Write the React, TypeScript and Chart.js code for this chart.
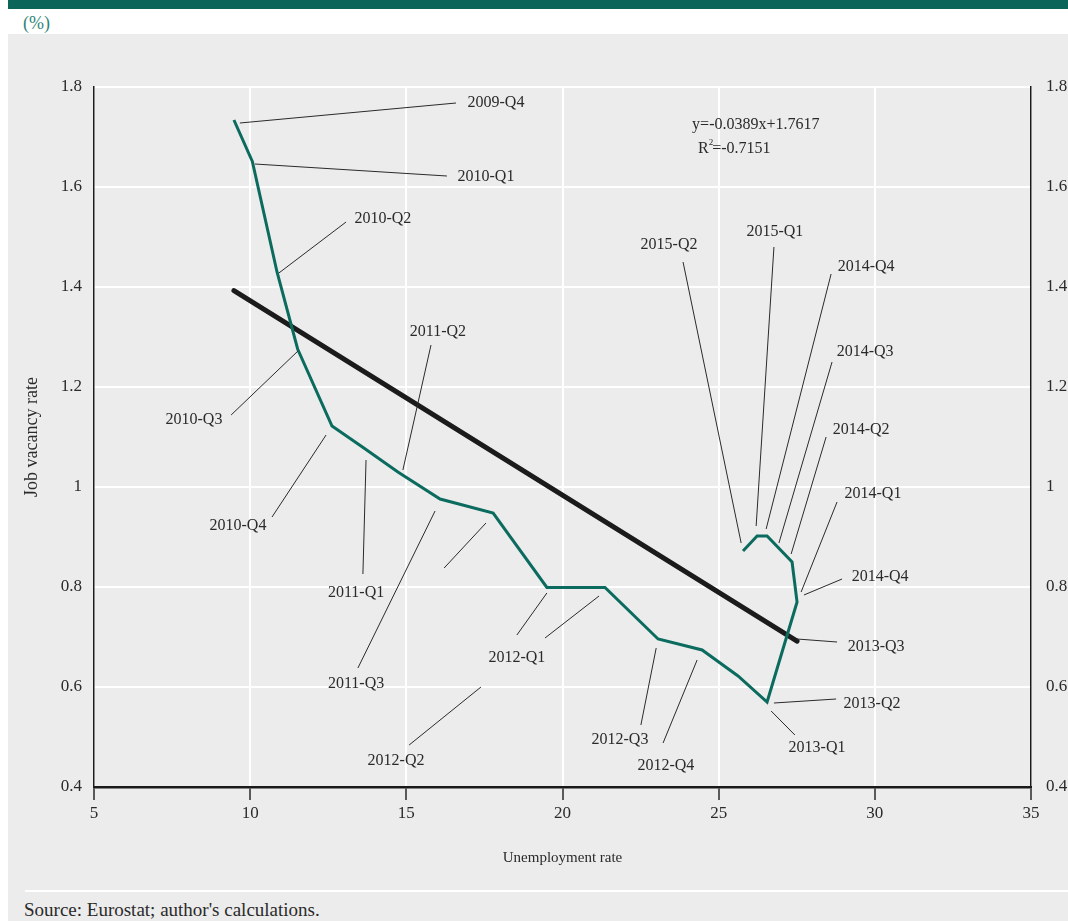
import { useEffect, useRef } from 'react';
import { Chart, registerables } from 'chart.js';

Chart.register(...registerables);

const FONT = "'Liberation Serif', 'Times New Roman', serif";

// Quarterly path: unemployment rate (x) against job vacancy rate (y)
const UNEMPLOYMENT = [
  9.48, 10.07, 10.86, 11.52, 12.62, 13.64, 14.73, 16.08, 17.78, 19.5,
  21.36, 23.06, 24.47, 25.62, 26.55, 27.51, 27.35, 26.55, 26.23, 25.78,
];
const VACANCY = [
  1.734, 1.651, 1.43, 1.276, 1.122, 1.078, 1.03, 0.976, 0.948, 0.799,
  0.799, 0.696, 0.674, 0.622, 0.57, 0.77, 0.85, 0.902, 0.902, 0.872,
];

// Linear fit stated on the chart
const FIT_SLOPE = -0.0389;
const FIT_INTERCEPT = 1.7617;
const FIT_R2 = -0.7151;

const X_TICKS = [5, 10, 15, 20, 25, 30, 35];
const Y_TICKS = [0.4, 0.6, 0.8, 1, 1.2, 1.4, 1.6, 1.8];

// Quarter labels, placed in axis units
const LABEL_TEXT = [
  '2009-Q4', '2010-Q1', '2010-Q2', '2010-Q3', '2010-Q4', '2011-Q1', '2011-Q2',
  '2011-Q3', '2012-Q1', '2012-Q2', '2012-Q3', '2012-Q4', '2013-Q1', '2013-Q2',
  '2013-Q3', '2014-Q4', '2014-Q1', '2014-Q2', '2014-Q3', '2014-Q4', '2015-Q1',
  '2015-Q2',
];
const LABEL_X = [
  17.87, 17.55, 14.25, 8.2, 9.61, 13.39, 16.01,
  13.39, 18.54, 14.67, 21.84, 23.31, 28.15, 29.91,
  30.04, 30.17, 29.94, 29.56, 29.69, 29.72, 26.8,
  23.41,
];
const LABEL_Y = [
  1.768, 1.62, 1.536, 1.134, 0.922, 0.788, 1.31,
  0.606, 0.658, 0.452, 0.494, 0.442, 0.478, 0.566,
  0.68, 0.82, 0.986, 1.114, 1.27, 1.44, 1.51,
  1.484,
];

// Leader lines joining labels to the path, in axis units
const LEADER_X1 = [
  9.67, 10.15, 10.92, 11.53, 12.43, 13.71, 14.89, 15.92, 17.55, 19.5,
  21.17, 17.39, 23.0, 24.31, 26.68, 26.77, 27.51, 27.73, 27.64, 27.32,
  26.93, 26.52, 26.2, 25.72,
];
const LEADER_Y1 = [
  1.728, 1.646, 1.428, 1.272, 1.104, 1.054, 1.034, 0.952, 0.928, 0.788,
  0.782, 0.6, 0.678, 0.654, 0.552, 0.568, 0.696, 0.784, 0.79, 0.866,
  0.888, 0.916, 0.922, 0.888,
];
const LEADER_X2 = [
  16.59, 16.3, 13.07, 9.39, 10.7, 13.61, 15.79, 13.45, 16.21, 18.54,
  19.44, 15.09, 22.51, 23.22, 27.44, 28.76, 28.79, 28.95, 28.79, 28.44,
  28.63, 28.6, 26.77, 23.86,
];
const LEADER_Y2 = [
  1.768, 1.622, 1.53, 1.144, 0.94, 0.826, 1.284, 0.638, 0.838, 0.704,
  0.698, 0.484, 0.524, 0.488, 0.504, 0.576, 0.69, 0.816, 0.97, 1.1,
  1.25, 1.426, 1.48, 1.45,
];

// Equation box anchor (left edge, axis units)
const EQUATION_X = [24.15, 24.34];
const EQUATION_Y = [1.724, 1.676];

const fit = (x: number) => FIT_INTERCEPT + FIT_SLOPE * x;

const annotationPlugin = {
  id: 'quarterAnnotations',
  afterDatasetsDraw(chart: any) {
    const { ctx } = chart;
    const xs = chart.scales.x;
    const ys = chart.scales.y;
    ctx.save();
    ctx.strokeStyle = '#2a2a2a';
    ctx.lineWidth = 1;
    for (let i = 0; i < LEADER_X1.length; i++) {
      ctx.beginPath();
      ctx.moveTo(xs.getPixelForValue(LEADER_X1[i]), ys.getPixelForValue(LEADER_Y1[i]));
      ctx.lineTo(xs.getPixelForValue(LEADER_X2[i]), ys.getPixelForValue(LEADER_Y2[i]));
      ctx.stroke();
    }
    ctx.fillStyle = '#2a2a2a';
    ctx.font = `16px ${FONT}`;
    ctx.textAlign = 'center';
    ctx.textBaseline = 'middle';
    for (let i = 0; i < LABEL_TEXT.length; i++) {
      ctx.fillText(LABEL_TEXT[i], xs.getPixelForValue(LABEL_X[i]), ys.getPixelForValue(LABEL_Y[i]));
    }
    ctx.textAlign = 'left';
    ctx.fillText(
      `y=${FIT_SLOPE}x+${FIT_INTERCEPT}`,
      xs.getPixelForValue(EQUATION_X[0]),
      ys.getPixelForValue(EQUATION_Y[0]),
    );
    // R² with a small raised 2
    const rx = xs.getPixelForValue(EQUATION_X[1]);
    const ry = ys.getPixelForValue(EQUATION_Y[1]);
    ctx.fillText('R', rx, ry);
    const rw = ctx.measureText('R').width;
    ctx.font = `9px ${FONT}`;
    ctx.fillText('2', rx + rw, ry - 6);
    const sw = ctx.measureText('2').width;
    ctx.font = `16px ${FONT}`;
    ctx.fillText(`=${FIT_R2}`, rx + rw + sw - 1, ry);
    ctx.restore();
  },
};

const tickFont = { family: FONT, size: 17 };
const yLabel = (v: any) => String(Number(Number(v).toFixed(1)));

export default function App() {
  const canvasRef = useRef<HTMLCanvasElement | null>(null);

  useEffect(() => {
    const canvas = canvasRef.current;
    if (!canvas) return;
    const minX = Math.min(...UNEMPLOYMENT);
    const maxX = Math.max(...UNEMPLOYMENT);
    const chart = new Chart(canvas, {
      type: 'scatter',
      data: {
        datasets: [
          {
            label: 'Job vacancy rate',
            data: UNEMPLOYMENT.map((x, i) => ({ x, y: VACANCY[i] })),
            showLine: true,
            borderColor: '#0b6b5e',
            borderWidth: 3,
            pointRadius: 0,
            tension: 0,
          },
          {
            label: 'Linear fit',
            data: [
              { x: minX, y: fit(minX) },
              { x: maxX, y: fit(maxX) },
            ],
            showLine: true,
            borderColor: '#1b1b1b',
            borderWidth: 5,
            borderCapStyle: 'round',
            pointRadius: 0,
          },
        ],
      },
      options: {
        animation: false,
        responsive: false,
        maintainAspectRatio: false,
        devicePixelRatio: 1,
        events: [],
        layout: { padding: { left: 8, right: 0, top: 87, bottom: 0 } },
        plugins: { legend: { display: false }, tooltip: { enabled: false } },
        scales: {
          x: {
            type: 'linear',
            position: 'bottom',
            min: 5,
            max: 35,
            afterBuildTicks: (s: any) => {
              s.ticks = X_TICKS.map((value) => ({ value }));
            },
            afterFit: (s: any) => {
              s.height = 134;
            },
            grid: {
              color: '#ffffff',
              lineWidth: 2,
              drawTicks: true,
              tickLength: 13,
              tickColor: '#2a2a2a',
              tickWidth: 1.5,
            },
            border: { display: true, color: '#1a1a1a', width: 2.5 },
            ticks: {
              padding: 3,
              color: '#2a2a2a',
              font: tickFont,
              maxRotation: 0,
              autoSkip: false,
              callback: (v: any) => String(v),
            },
            title: {
              display: true,
              text: 'Unemployment rate',
              color: '#2a2a2a',
              font: { family: FONT, size: 15 },
              padding: { top: 0, bottom: 54 },
            },
          },
          y: {
            type: 'linear',
            position: 'left',
            min: 0.4,
            max: 1.8,
            afterBuildTicks: (s: any) => {
              s.ticks = Y_TICKS.map((value) => ({ value }));
            },
            afterFit: (s: any) => {
              s.width = 86;
            },
            grid: { color: '#ffffff', lineWidth: 2, drawTicks: false },
            border: { display: true, color: '#1a1a1a', width: 1.5 },
            ticks: { padding: 12, color: '#2a2a2a', font: tickFont, callback: yLabel },
            title: {
              display: true,
              text: 'Job vacancy rate',
              color: '#2a2a2a',
              font: { family: FONT, size: 18 },
              padding: { top: 13, bottom: 0 },
            },
          },
          y2: {
            type: 'linear',
            position: 'right',
            min: 0.4,
            max: 1.8,
            afterBuildTicks: (s: any) => {
              s.ticks = Y_TICKS.map((value) => ({ value }));
            },
            afterFit: (s: any) => {
              s.width = 37;
            },
            grid: { display: false, drawTicks: false },
            border: { display: true, color: '#1a1a1a', width: 1.5 },
            ticks: { padding: 15, color: '#2a2a2a', font: tickFont, callback: yLabel },
          },
        },
      },
      plugins: [annotationPlugin],
    } as any);
    return () => chart.destroy();
  }, []);

  return (
    <div style={{ position: 'absolute', left: 0, top: 0, width: 1068, height: 921, overflow: 'hidden', background: '#ffffff' }}>
      <div style={{ position: 'absolute', left: 8, top: 0, width: 1060, height: 9, background: '#0b6659' }} />
      <div
        style={{
          position: 'absolute',
          left: 23,
          top: 13,
          fontFamily: FONT,
          fontSize: 18,
          lineHeight: '20px',
          color: '#2f8578',
        }}
      >
        (%)
      </div>
      <div style={{ position: 'absolute', left: 8, top: 34, width: 1060, height: 887, background: '#ececec' }} />
      <div style={{ position: 'absolute', left: 25, top: 890, width: 1043, height: 2, background: '#ffffff' }} />
      <div
        style={{
          position: 'absolute',
          left: 24,
          top: 899,
          fontFamily: FONT,
          fontSize: 19,
          lineHeight: '22px',
          color: '#2a2a2a',
          whiteSpace: 'nowrap',
        }}
      >
        Source: Eurostat; author's calculations.
      </div>
      <canvas
        ref={canvasRef}
        width={1068}
        height={921}
        style={{ position: 'absolute', left: 0, top: 0, width: 1068, height: 921 }}
      />
    </div>
  );
}
